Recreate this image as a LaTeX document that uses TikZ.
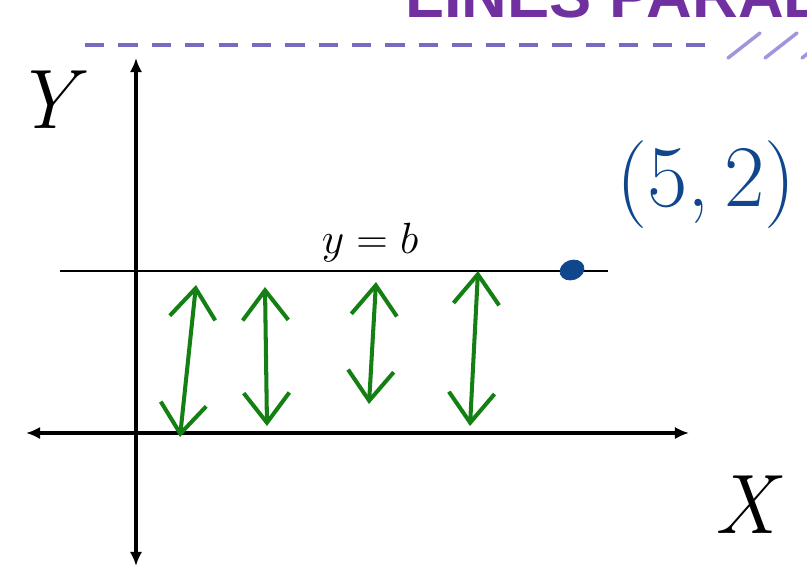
\documentclass[tikz,border=0pt]{standalone}
\usepackage{fontspec}
\newfontfamily\titlefont{Liberation Sans}
\usetikzlibrary{arrows.meta,shapes.geometric}
\definecolor{titlepurple}{RGB}{112,48,160}
\definecolor{dashpurple}{RGB}{120,105,195}
\definecolor{slashpurple}{RGB}{160,150,220}
\definecolor{inkblue}{RGB}{15,70,140}
\definecolor{inkgreen}{RGB}{20,128,20}

\begin{document}
\begin{tikzpicture}[x=0.02cm, y=-0.02cm,
                    axis/.style = {line width=2.2pt, {Latex[length=8pt,width=7pt]}-{Latex[length=8pt,width=7pt]}},
                    sweep/.style = {draw=inkgreen, line width=2.3pt, line cap=round,
                                    {Straight Barb[length=17pt,width=26pt]}-{Straight Barb[length=17pt,width=26pt]}},
                    hand/.style = {font=\fontsize{48}{50}\selectfont\itshape, inner sep=0pt}
                ]
                    \useasboundingbox (0,0) rectangle (807,569);
                    \clip (0,0) rectangle (807,569);

                    % title and rule at the top
                    \node[anchor=base west, inner sep=0pt, text=titlepurple,
                          font=\titlefont\bfseries\fontsize{36}{38}\selectfont] (title) at (405,17) {LINES PARAL};
                    \draw[dashpurple, line width=2.6pt, dash pattern=on 11pt off 8pt] (85,45) -- (715,45);
                    \foreach \sx in {728,765,802}
                        \draw[slashpurple, line width=2pt, line cap=round] (\sx,58) -- (\sx+32,33);

                    % axes
                    \coordinate (ytop) at (136,58);
                    \coordinate (ybot) at (136,566);
                    \coordinate (xleft) at (26,433);
                    \coordinate (xright) at (689,433);
                    \draw[axis] (ybot) -- (ytop);
                    \draw[axis] (xleft) -- (xright);
                    \node[hand] (Y) at (45,100) {Y};
                    \node[hand] (X) at (745,505) {X};

                    % the line y = b
                    \coordinate (bleft) at (60,271);
                    \coordinate (bright) at (608,271);
                    \draw[line width=0.8pt] (bleft) -- (bright);
                    \node[font=\fontsize{27}{29}\selectfont] (blabel) at (370,243) {$y = b$};

                    % point and its label
                    \node[draw=inkblue, fill=inkblue, ellipse, minimum width=14pt, minimum height=11pt, inner sep=0pt, rotate=20] (pt) at (572,270) {};
                    \node[text=inkblue, font=\fontsize{50}{52}\selectfont, inner sep=0pt] (ptlabel) at (706,185) {(5,\,2)};

                    % distances from the x-axis to y = b
                    \coordinate (a1) at (180,437); \coordinate (b1) at (196,285);
                    \coordinate (a2) at (267,426); \coordinate (b2) at (265,287);
                    \coordinate (a3) at (369,404); \coordinate (b3) at (376,282);
                    \coordinate (a4) at (470,426); \coordinate (b4) at (478,271);
                    \draw[sweep] (a1) -- (b1);
                    \draw[sweep] (a2) -- (b2);
                    \draw[sweep] (a3) -- (b3);
                    \draw[sweep] (a4) -- (b4);
                \end{tikzpicture}
\end{document}
